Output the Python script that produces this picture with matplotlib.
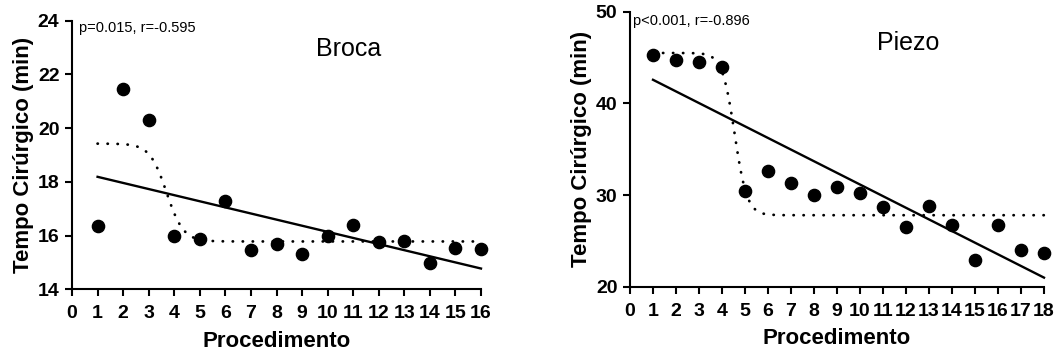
import numpy as np
import matplotlib
matplotlib.use("Agg")
import matplotlib.pyplot as plt

plt.rcParams["font.family"] = ["Liberation Sans", "DejaVu Sans"]

# Broca data
broca_proc = np.arange(1, 17)
broca_time = [16.35, 21.47, 20.30, 15.98, 15.88, 17.30, 15.48, 15.69,
              15.30, 15.98, 16.38, 15.77, 15.79, 14.96, 15.52, 15.51]
# sigmoid fit params (top, bottom, x50, slope)
broca_sig = [19.42, 15.78, 3.7, 0.33]
broca_stats = "p=0.015, r=-0.595"

# Piezo data
piezo_proc = np.arange(1, 19)
piezo_time = [45.30, 44.75, 44.50, 43.96, 30.49, 32.63, 31.32, 29.95, 30.93,
              30.17, 28.72, 26.48, 28.79, 26.73, 22.89, 26.76, 23.98, 23.72]
piezo_sig = [45.5, 27.8, 4.55, 0.27]
piezo_stats = "p<0.001, r=-0.896"

W, H = 1059, 353


def sigmoid(x, p):
    top, bottom, x50, k = p
    return bottom + (top - bottom) / (1 + np.exp((x - x50) / k))


def panel(rect, x, y, sig, stats, name, xmax, ylim, yticks, stats_xy, name_xy):
    ax = fig.add_axes(rect)
    x = np.asarray(x)
    y = np.asarray(y)

    # sigmoid (dotted)
    xs = np.linspace(x[0], x[-1], 400)
    ax.plot(xs, sigmoid(xs, sig), color="black", lw=2.0,
            linestyle=(0, (0.1, 3.5)), dash_capstyle="round", clip_on=False, zorder=2)

    # linear regression
    m, b = np.polyfit(x, y, 1)
    ax.plot([x[0], x[-1]], [m * x[0] + b, m * x[-1] + b], color="black", lw=1.7,
            clip_on=False, zorder=2)

    ax.plot(x, y, "o", color="black", ms=8.8, clip_on=False, zorder=3)

    ax.set_xlim(0, xmax)
    ax.set_ylim(*ylim)
    ax.set_xticks(range(0, xmax + 1))
    ax.set_yticks(yticks)
    for s in ["top", "right"]:
        ax.spines[s].set_visible(False)
    for s in ["left", "bottom"]:
        ax.spines[s].set_linewidth(1.5)
    ax.tick_params(width=1.5, length=5, labelsize=14)
    ax.tick_params(axis="x", pad=6.5)
    ax.tick_params(axis="y", pad=4)
    for lab in ax.get_xticklabels() + ax.get_yticklabels():
        lab.set_fontweight("bold")

    ax.set_xlabel("Procedimento", fontsize=16, fontweight="bold", labelpad=6)
    ax.set_ylabel("Tempo Cirúrgico (min)", fontsize=16, fontweight="bold", labelpad=3)

    fig.text(stats_xy[0] / W, 1 - stats_xy[1] / H, stats, fontsize=10.5,
             ha="left", va="center")
    fig.text(name_xy[0] / W, 1 - name_xy[1] / H, name, fontsize=18,
             ha="center", va="center")
    return ax


fig = plt.figure(figsize=(W / 100, H / 100), dpi=100)

panel([72 / W, (H - 289.3) / H, 409 / W, 268.8 / H],
      broca_proc, broca_time, broca_sig, broca_stats, "Broca",
      16, (14, 24), [14, 16, 18, 20, 22, 24], (79, 28), (349, 49))

panel([630 / W, (H - 286.7) / H, 414 / W, 275 / H],
      piezo_proc, piezo_time, piezo_sig, piezo_stats, "Piezo",
      18, (20, 50), [20, 30, 40, 50], (633, 21.5), (908, 43))

fig.savefig("out.png", dpi=100)
